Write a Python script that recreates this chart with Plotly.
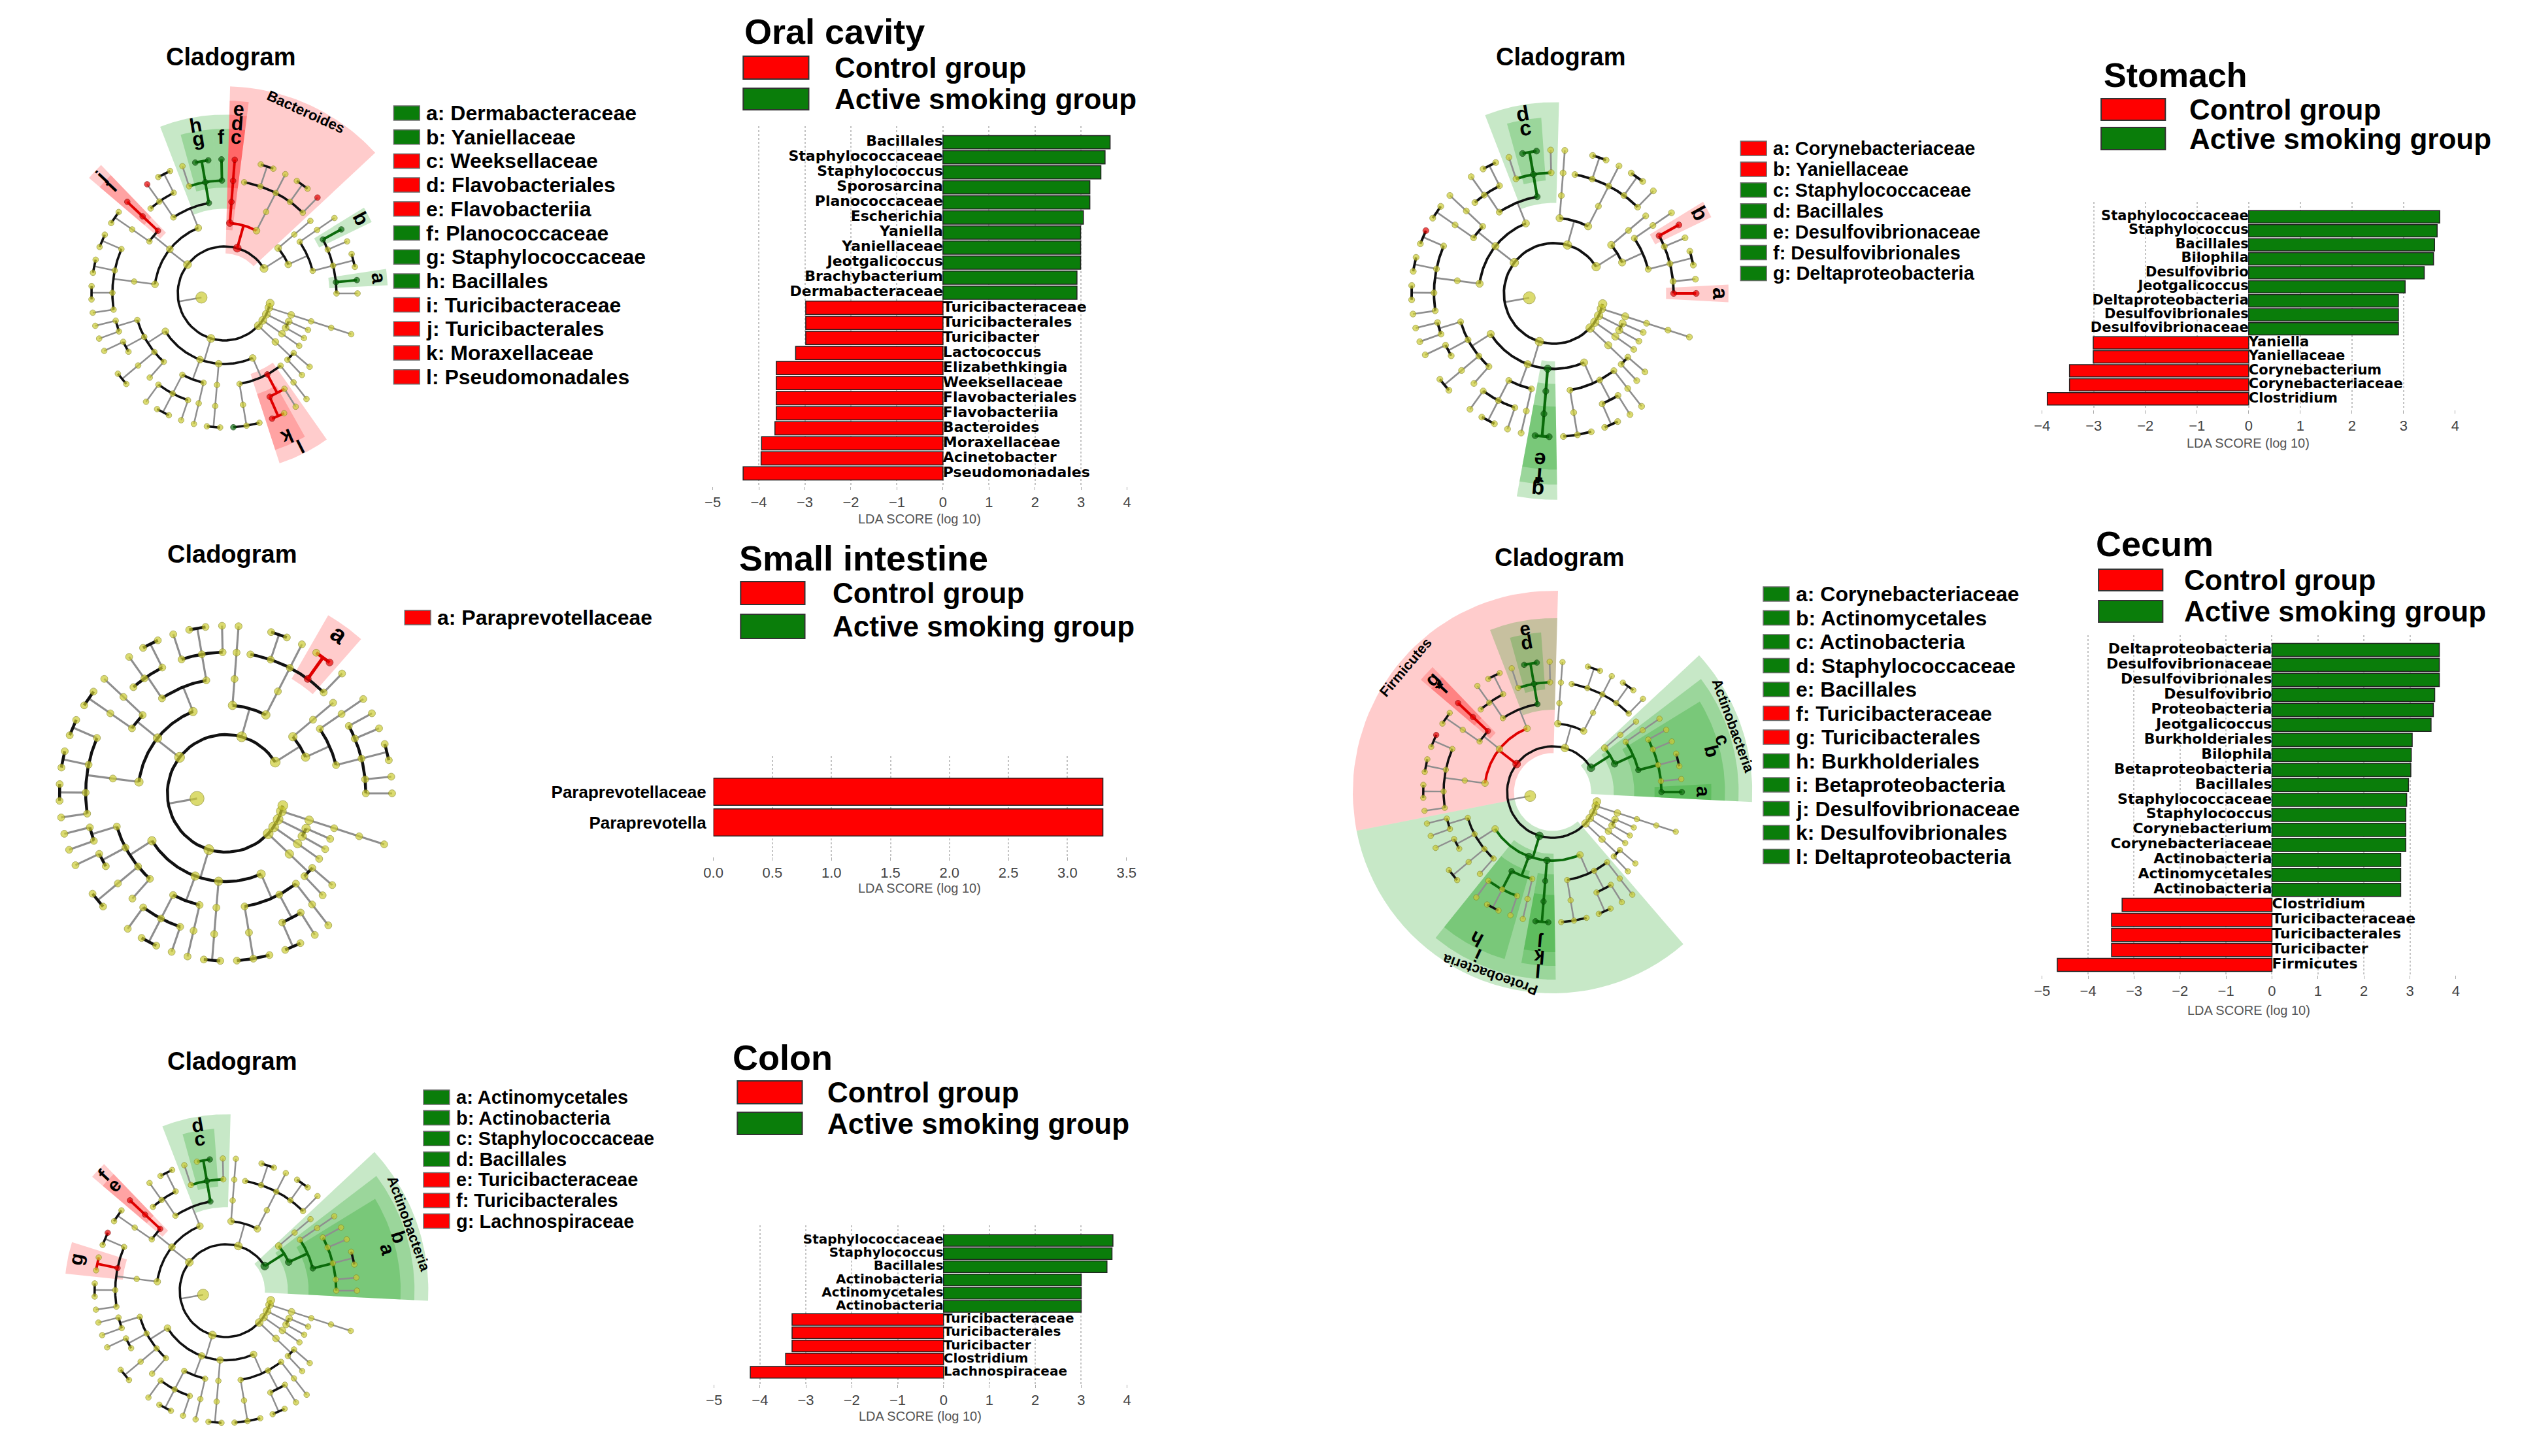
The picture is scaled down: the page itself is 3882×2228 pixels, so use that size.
import numpy as np
import plotly.graph_objects as go

W, H = 3882, 2228
RED = "#FF0000"
GREEN = "#0A7D0A"
FONT = "Liberation Sans, Arial, sans-serif"
BAR_FONT = "DejaVu Sans, Liberation Sans, sans-serif"

# ---------------- LDA scores ----------------
oral_taxa = ["Bacillales", "Staphylococcaceae", "Staphylococcus", "Sporosarcina",
             "Planococcaceae", "Escherichia", "Yaniella", "Yaniellaceae",
             "Jeotgalicoccus", "Brachybacterium", "Dermabacteraceae",
             "Turicibacteraceae", "Turicibacterales", "Turicibacter", "Lactococcus",
             "Elizabethkingia", "Weeksellaceae", "Flavobacteriales", "Flavobacteriia",
             "Bacteroides", "Moraxellaceae", "Acinetobacter", "Pseudomonadales"]
oral_lda = [3.63, 3.52, 3.43, 3.19, 3.19, 3.05, 2.99, 2.99, 2.99, 2.91, 2.91,
            -2.98, -2.98, -2.98, -3.20, -3.62, -3.62, -3.62, -3.62, -3.65,
            -3.94, -3.95, -4.34]

stomach_taxa = ["Staphylococcaceae", "Staphylococcus", "Bacillales", "Bilophila",
                "Desulfovibrio", "Jeotgalicoccus", "Deltaproteobacteria",
                "Desulfovibrionales", "Desulfovibrionaceae", "Yaniella", "Yaniellaceae",
                "Corynebacterium", "Corynebacteriaceae", "Clostridium"]
stomach_lda = [3.70, 3.65, 3.60, 3.58, 3.40, 3.03, 2.90, 2.90, 2.90,
               -3.01, -3.01, -3.47, -3.47, -3.90]

cecum_taxa = ["Deltaproteobacteria", "Desulfovibrionaceae", "Desulfovibrionales",
              "Desulfovibrio", "Proteobacteria", "Jeotgalicoccus", "Burkholderiales",
              "Bilophila", "Betaproteobacteria", "Bacillales", "Staphylococcaceae",
              "Staphylococcus", "Corynebacterium", "Corynebacteriaceae",
              "Actinobacteria", "Actinomycetales", "Actinobacteria", "Clostridium",
              "Turicibacteraceae", "Turicibacterales", "Turicibacter", "Firmicutes"]
cecum_lda = [3.64, 3.64, 3.64, 3.54, 3.51, 3.46, 3.05, 3.03, 3.02, 2.97, 2.93,
             2.91, 2.91, 2.91, 2.80, 2.80, 2.80, -3.26, -3.49, -3.49, -3.49, -4.67]

colon_taxa = ["Staphylococcaceae", "Staphylococcus", "Bacillales", "Actinobacteria",
              "Actinomycetales", "Actinobacteria", "Turicibacteraceae",
              "Turicibacterales", "Turicibacter", "Clostridium", "Lachnospiraceae"]
colon_lda = [3.69, 3.67, 3.56, 3.00, 3.00, 3.00, -3.30, -3.30, -3.30, -3.44, -4.21]

si_taxa = ["Paraprevotellaceae", "Paraprevotella"]
si_lda = [3.30, 3.30]
si_group = ["Control", "Control"]

# ---------------- taxonomy drawn in the cladograms ----------------
# (name, children); an int n stands for n unnamed leaves
TAXONOMY = [
    ("p_Actinobacteria", [
        ("c_Actinobacteria", [
            ("o_Actinomycetales", [
                ("f_Corynebacteriaceae", ["g_Corynebacterium"]),
                ("f_Dermabacteraceae", ["g_Brachybacterium"]),
                ("f_Micrococcaceae", [2]),
                ("f_Brevibacteriaceae", [1]),
                ("f_Yaniellaceae", ["g_Yaniella"]),
            ]),
            ("o_Bifidobacteriales", [("f_Bifidobacteriaceae", [1])]),
        ]),
        ("c_Coriobacteriia", [("o_Coriobacteriales", [1])]),
    ]),
    ("p_Bacteroidetes", [
        ("c_Bacteroidia", [
            ("o_Bacteroidales", [
                ("f_Bacteroidaceae", ["g_Bacteroides"]),
                ("f_Paraprevotellaceae", ["g_Paraprevotella", 1]),
                ("f_Prevotellaceae", [1]),
                ("f_Porphyromonadaceae", [2]),
                ("f_S24-7", []),
            ]),
        ]),
        ("c_Flavobacteriia", [
            ("o_Flavobacteriales", [("f_Weeksellaceae", ["g_Elizabethkingia"])]),
        ]),
    ]),
    ("p_Firmicutes", [
        ("c_Bacilli", [
            ("o_Bacillales", [
                ("f_Planococcaceae", ["g_Sporosarcina"]),
                ("f_Staphylococcaceae", ["g_Staphylococcus", "g_Jeotgalicoccus"]),
                ("f_Bacillaceae", [1]),
            ]),
            ("o_Lactobacillales", [
                ("f_Lactobacillaceae", [2]),
                ("f_Streptococcaceae", ["g_Lactococcus"]),
                ("f_Enterococcaceae", []),
            ]),
        ]),
        ("c_Erysipelotrichi", [
            ("o_Turicibacterales", [("f_Turicibacteraceae", ["g_Turicibacter"])]),
            ("o_Erysipelotrichales", [("f_Erysipelotrichaceae", [2])]),
        ]),
        ("c_Clostridia", [
            ("o_Clostridiales", [
                ("f_Clostridiaceae", ["g_Clostridium", 1]),
                ("f_Lachnospiraceae", [2]),
                ("f_Ruminococcaceae", [2]),
                ("f_Peptostreptococcaceae", [1]),
            ]),
        ]),
    ]),
    ("p_Proteobacteria", [
        ("c_Alphaproteobacteria", [
            ("o_Rhizobiales", [("f_Bradyrhizobiaceae", [1]), ("f_Rhizobiaceae", [1])]),
            ("o_Rhodospirillales", [("f_Rhodospirillaceae", [1]), ("f_Acetobacteraceae", [])]),
            ("o_Sphingomonadales", [("f_Sphingomonadaceae", [2])]),
            ("o_Rickettsiales", [1]),
        ]),
        ("c_Betaproteobacteria", [
            ("o_Burkholderiales", [("f_Alcaligenaceae", [1]), ("f_Comamonadaceae", [2]),
                                   ("f_Oxalobacteraceae", [1])]),
            ("o_Neisseriales", [("f_Neisseriaceae", [1])]),
        ]),
        ("c_Deltaproteobacteria", [
            ("o_Desulfovibrionales", [("f_Desulfovibrionaceae", ["g_Desulfovibrio", "g_Bilophila"])]),
        ]),
        ("c_Gammaproteobacteria", [
            ("o_Enterobacteriales", [("f_Enterobacteriaceae", ["g_Escherichia", 2])]),
            ("o_Pseudomonadales", [("f_Moraxellaceae", ["g_Acinetobacter", 1]),
                                   ("f_Pseudomonadaceae", [1])]),
            ("o_Pasteurellales", [("f_Pasteurellaceae", [1])]),
        ]),
    ]),
    ("p_Tenericutes", [("c_Mollicutes", [("o_RF39", [1]), ("o_Anaeroplasmatales", [1])])]),
    ("p_Deferribacteres", [("c_Deferribacteres", [1])]),
    ("p_Cyanobacteria", [("c_4C0d-2", [1]), ("c_Chloroplast", [1])]),
    ("p_Verrucomicrobia", [("c_Verrucomicrobiae", [("o_Verrucomicrobiales",
                                                     [("f_Verrucomicrobiaceae", [1])])])]),
    ("p_TM7", []),
]

# marked taxa per site: colour, and a letter (legend), a clade name, or None (dot only)
oral_marked = {
    "f_Dermabacteraceae": ("g", "a"), "f_Yaniellaceae": ("g", "b"),
    "f_Weeksellaceae": ("r", "c"), "o_Flavobacteriales": ("r", "d"),
    "c_Flavobacteriia": ("r", "e"), "f_Planococcaceae": ("g", "f"),
    "f_Staphylococcaceae": ("g", "g"), "o_Bacillales": ("g", "h"),
    "f_Turicibacteraceae": ("r", "i"), "o_Turicibacterales": ("r", "j"),
    "f_Moraxellaceae": ("r", "k"), "o_Pseudomonadales": ("r", "l"),
    "p_Bacteroidetes": ("r", "Bacteroides"),
    "g_Bacteroides": ("r", None), "g_Elizabethkingia": ("r", None),
    "g_Turicibacter": ("r", None), "g_Lactococcus": ("r", None),
    "g_Acinetobacter": ("r", None), "g_Staphylococcus": ("g", None),
    "g_Sporosarcina": ("g", None), "g_Jeotgalicoccus": ("g", None),
    "g_Yaniella": ("g", None), "g_Brachybacterium": ("g", None),
    "g_Escherichia": ("g", None),
}
stomach_marked = {
    "f_Corynebacteriaceae": ("r", "a"), "f_Yaniellaceae": ("r", "b"),
    "f_Staphylococcaceae": ("g", "c"), "o_Bacillales": ("g", "d"),
    "f_Desulfovibrionaceae": ("g", "e"), "o_Desulfovibrionales": ("g", "f"),
    "c_Deltaproteobacteria": ("g", "g"),
    "g_Corynebacterium": ("r", None), "g_Yaniella": ("r", None),
    "g_Clostridium": ("r", None), "g_Staphylococcus": ("g", None),
    "g_Jeotgalicoccus": ("g", None), "g_Desulfovibrio": ("g", None),
    "g_Bilophila": ("g", None),
}
cecum_marked = {
    "f_Corynebacteriaceae": ("g", "a"), "o_Actinomycetales": ("g", "b"),
    "c_Actinobacteria": ("g", "c"), "f_Staphylococcaceae": ("g", "d"),
    "o_Bacillales": ("g", "e"), "f_Turicibacteraceae": ("r", "f"),
    "o_Turicibacterales": ("r", "g"), "o_Burkholderiales": ("g", "h"),
    "c_Betaproteobacteria": ("g", "i"), "f_Desulfovibrionaceae": ("g", "j"),
    "o_Desulfovibrionales": ("g", "k"), "c_Deltaproteobacteria": ("g", "l"),
    "p_Actinobacteria": ("g", "Actinobacteria"), "p_Firmicutes": ("r", "Firmicutes"),
    "p_Proteobacteria": ("g", "Proteobacteria"),
    "g_Corynebacterium": ("g", None), "g_Staphylococcus": ("g", None),
    "g_Jeotgalicoccus": ("g", None), "g_Desulfovibrio": ("g", None),
    "g_Bilophila": ("g", None), "g_Clostridium": ("r", None),
    "g_Turicibacter": ("r", None),
}
colon_marked = {
    "o_Actinomycetales": ("g", "a"), "c_Actinobacteria": ("g", "b"),
    "f_Staphylococcaceae": ("g", "c"), "o_Bacillales": ("g", "d"),
    "f_Turicibacteraceae": ("r", "e"), "o_Turicibacterales": ("r", "f"),
    "f_Lachnospiraceae": ("r", "g"), "p_Actinobacteria": ("g", "Actinobacteria"),
    "g_Staphylococcus": ("g", None), "g_Turicibacter": ("r", None),
    "g_Clostridium": ("r", None),
}
si_marked = {"f_Paraprevotellaceae": ("r", "a"), "g_Paraprevotella": ("r", None)}

LEVEL_R = [0.5, 1.0, 1.5, 1.95, 2.4, 2.85]
ANGLE_FROM, ANGLE_TO = 0.0, 348.0
SHADE = {"r": "rgba(255,0,0,0.2)", "g": "rgba(0,150,0,0.22)"}
LINE = {"r": "#E00000", "g": "#0B6B0B", "grey": "#8E8E8E", "black": "#111111"}
DOT = {"y": ("#CCCC33", "#8C8C1E"), "r": ("#E80000", "#8A0000"), "g": ("#0B6B0B", "#033803")}

fig = go.Figure()


def kids_of(node):
    if isinstance(node, str):
        return []
    out = []
    for c in node[1]:
        out.extend([""] * c if isinstance(c, int) else [c])
    return out


def n_leaves(node):
    ks = kids_of(node)
    return 1 if not ks else sum(n_leaves(k) for k in ks)


def lay_out(tree):
    root = ("root", tree)
    step = (ANGLE_TO - ANGLE_FROM) / (n_leaves(root) - 1)
    nodes, count = [], [0]

    def walk(node, depth):
        ks = kids_of(node)
        rec = {"name": node if isinstance(node, str) else node[0], "depth": depth, "kids": []}
        if ks:
            rec["kids"] = [walk(k, depth + 1) for k in ks]
            first, last = rec["kids"][0], rec["kids"][-1]
            rec["angle"] = (first["angle"] + last["angle"]) / 2
            rec["lo"], rec["hi"] = first["lo"], last["hi"]
        else:
            a = ANGLE_FROM + step * count[0]
            count[0] += 1
            rec["angle"] = rec["lo"] = rec["hi"] = a
        nodes.append(rec)
        return rec

    walk(root, 0)
    return nodes, step


def polar(cx, cy, unit, r, a):
    t = np.radians(a)
    return cx + r * unit * np.cos(t), cy - r * unit * np.sin(t)


def canvas_text(x, y, text, size, anchor="center", angle=0, color="black", bold=True):
    fig.add_annotation(x=x, y=y, xref="x6", yref="y6", text=text, showarrow=False,
                       xanchor=anchor, yanchor="middle", textangle=angle,
                       font=dict(family=FONT, size=size, color=color,
                                 weight="bold" if bold else "normal"))


def draw_cladogram(marked, cx, cy, unit, title_y, leg_x, leg_y0, leg_dy, leg_size):
    nodes, step = lay_out(TAXONOMY)

    # shaded clades
    shaded = sorted([n for n in nodes if marked.get(n["name"], (None, None))[1]],
                    key=lambda n: n["depth"])
    for n in shaded:
        col, lab = marked[n["name"]]
        r_in = LEVEL_R[n["depth"]] - 0.15
        r_out = LEVEL_R[-1] + 0.35 + 0.3 * (5 - n["depth"])
        a = np.linspace(n["lo"] - step / 2, n["hi"] + step / 2, 40)
        xo, yo = polar(cx, cy, unit, r_out, a)
        xi, yi = polar(cx, cy, unit, r_in, a[::-1])
        fig.add_trace(go.Scatter(x=np.r_[xo, xi, xo[:1]], y=np.r_[yo, yi, yo[:1]],
                                 fill="toself", fillcolor=SHADE[col], mode="lines",
                                 line=dict(width=0), xaxis="x6", yaxis="y6",
                                 hoverinfo="skip"))
        mid = (n["lo"] + n["hi"]) / 2
        lx, ly = polar(cx, cy, unit, r_out - 0.17, mid)
        rot = ((90 - mid + 180) % 360) - 180
        canvas_text(lx, ly, lab, unit * (0.42 if len(lab) == 1 else 0.31), angle=rot)

    # branches
    segs = {k: ([], []) for k in ["grey", "black", "r", "g"]}
    for n in nodes:
        if not n["kids"]:
            continue
        d = n["depth"]
        col = marked.get(n["name"], (None,))[0]
        x, y = polar(cx, cy, unit, np.array([LEVEL_R[d], LEVEL_R[d + 1]]), n["angle"])
        segs[col or "grey"][0].extend(list(x) + [None])
        segs[col or "grey"][1].extend(list(y) + [None])
        if len(n["kids"]) > 1:
            a = np.linspace(n["kids"][0]["angle"], n["kids"][-1]["angle"], 60)
            x, y = polar(cx, cy, unit, LEVEL_R[d + 1], a)
            segs[col or "black"][0].extend(list(x) + [None])
            segs[col or "black"][1].extend(list(y) + [None])
    for key, width in [("grey", 0.035), ("black", 0.05), ("r", 0.055), ("g", 0.055)]:
        fig.add_trace(go.Scatter(x=segs[key][0], y=segs[key][1], mode="lines",
                                 line=dict(color=LINE[key], width=unit * width),
                                 xaxis="x6", yaxis="y6", hoverinfo="skip"))

    # nodes
    for key in ["y", "r", "g"]:
        pts = [n for n in nodes if (marked.get(n["name"], (None,))[0] or "y") == key]
        if not pts:
            continue
        xs, ys, sz = [], [], []
        for n in pts:
            x, y = polar(cx, cy, unit, LEVEL_R[n["depth"]], n["angle"])
            xs.append(x)
            ys.append(y)
            d = n["depth"]
            sz.append(unit * (0.24 if d == 0 else 0.17 if d == 1 else 0.145 if d == 2 else 0.12))
        fig.add_trace(go.Scatter(x=xs, y=ys, mode="markers", xaxis="x6", yaxis="y6",
                                 marker=dict(size=sz, color=DOT[key][0],
                                             line=dict(color=DOT[key][1], width=1)),
                                 hoverinfo="skip"))

    canvas_text(cx + 10, title_y, "Cladogram", 38)
    entries = sorted([(lab, name) for name, (col, lab) in marked.items()
                      if lab and len(lab) == 1])
    for i, (lab, name) in enumerate(entries):
        col = marked[name][0]
        y = leg_y0 + i * leg_dy
        fig.add_shape(type="rect", xref="x6", yref="y6", x0=leg_x, x1=leg_x + 40,
                      y0=y - 11, y1=y + 11, fillcolor=RED if col == "r" else GREEN,
                      line=dict(color="#6A6A6A", width=1.5))
        canvas_text(leg_x + 48, y, f"{lab}: {name[2:]}", leg_size, anchor="left")


def lda_panel(k, taxa, lda, xpx, area, bars, xrange, tickvals, label_size,
              groups=None, axis_labels=False, tickformat=None):
    n = len(taxa)
    top, bottom = area
    bt, bb = bars
    slot = (bb - bt) / n
    y_top = -0.5 - (bt - top) / slot
    y_bot = n - 0.5 + (bottom - bb) / slot
    pos = list(range(n))
    if groups is None:
        groups = ["Active" if v > 0 else "Control" for v in lda]
    xa, ya = ("x", "y") if k == 1 else (f"x{k}", f"y{k}")
    fig.add_trace(go.Bar(x=lda, y=pos, orientation="h", xaxis=xa, yaxis=ya, width=0.88,
                         marker=dict(color=[GREEN if g == "Active" else RED for g in groups],
                                     line=dict(color="#222222", width=1.5)),
                         hoverinfo="skip"))
    if not axis_labels:
        tf = dict(family=BAR_FONT, size=label_size, color="black", weight="bold")
        right = [i for i in pos if lda[i] > 0]
        left = [i for i in pos if lda[i] < 0]
        fig.add_trace(go.Scatter(x=[0] * len(right), y=right, text=[taxa[i] for i in right],
                                 mode="text", textposition="middle left", textfont=tf,
                                 xaxis=xa, yaxis=ya, cliponaxis=False, hoverinfo="skip"))
        fig.add_trace(go.Scatter(x=[0] * len(left), y=left, text=[taxa[i] for i in left],
                                 mode="text", textposition="middle right", textfont=tf,
                                 xaxis=xa, yaxis=ya, cliponaxis=False, hoverinfo="skip"))
    else:
        tf = dict(family=FONT, size=label_size, color="black", weight="bold")
    key = "" if k == 1 else str(k)
    fig.update_layout(**{
        f"xaxis{key}": dict(domain=[xpx[0] / W, xpx[1] / W], range=xrange, anchor=ya,
                            tickvals=tickvals, tickformat=tickformat, showgrid=True,
                            gridcolor="#C4C4C4", griddash="dot", gridwidth=1.5,
                            zeroline=False, showline=False, ticks="outside", ticklen=5,
                            tickcolor="#AAAAAA",
                            tickfont=dict(family=FONT, size=22, color="#444444")),
        f"yaxis{key}": dict(domain=[1 - bottom / H, 1 - top / H], range=[y_bot, y_top],
                            anchor=xa, showgrid=False, zeroline=False, showline=False,
                            tickvals=pos if axis_labels else [],
                            ticktext=taxa if axis_labels else None,
                            ticks="", ticklabelstandoff=10, tickfont=tf),
    })


def panel_heading(title, title_xy, title_size, box_x, red_y, green_y, text_x):
    canvas_text(title_xy[0], title_xy[1], title, title_size, anchor="left")
    for (y0, y1), col, txt in [(red_y, RED, "Control group"),
                               (green_y, GREEN, "Active smoking group")]:
        fig.add_shape(type="rect", xref="x6", yref="y6", x0=box_x[0], x1=box_x[1],
                      y0=y0, y1=y1, fillcolor=col, line=dict(color="#333333", width=2))
        canvas_text(text_x, (y0 + y1) / 2, txt, 44, anchor="left")


def lda_title(x, y):
    canvas_text(x, y, "LDA SCORE (log 10)", 20, color="#555555", bold=False)


# ---------------- bar panels ----------------
lda_panel(1, oral_taxa, oral_lda, (1084, 1723), (193, 744), (206, 736), [-5, 4],
          list(range(-5, 5)), 22)
panel_heading("Oral cavity", (1131, 48), 54, (1131, 1232), (86, 121), (135, 168), 1270)
lda_title(1403, 794)

lda_panel(2, stomach_taxa, stomach_lda, (3134, 3771), (309, 627), (321, 621), [-4, 4],
          list(range(-4, 5)), 21)
panel_heading("Stomach", (3227, 115), 52, (3225, 3324), (151, 184), (195, 229), 3359)
lda_title(3452, 678)

lda_panel(3, si_taxa, si_lda, (1085, 1722), (1157, 1311), (1188, 1282), [0, 3.5],
          [0, 0.5, 1, 1.5, 2, 2.5, 3, 3.5], 26, groups=si_group, axis_labels=True,
          tickformat=".1f")
panel_heading("Small intestine", (1123, 854), 54, (1127, 1226), (890, 925), (940, 977), 1267)
lda_title(1403, 1359)

lda_panel(4, cecum_taxa, cecum_lda, (3134, 3772), (972, 1492), (983, 1488), [-5, 4],
          list(range(-5, 5)), 22)
panel_heading("Cecum", (3215, 832), 54, (3221, 3320), (871, 904), (919, 952), 3351)
lda_title(3453, 1546)

lda_panel(5, colon_taxa, colon_lda, (1086, 1723), (1875, 2118), (1888, 2110), [-5, 4],
          list(range(-5, 5)), 20)
panel_heading("Colon", (1113, 1618), 54, (1122, 1222), (1654, 1689), (1702, 1736), 1259)
lda_title(1404, 2167)

# ---------------- cladograms ----------------
draw_cladogram(oral_marked, 331, 449, 72, 87, 592, 173, 36.7, 32)
draw_cladogram(si_marked, 333, 1214, 90, 848, 609, 945, 36, 32)
draw_cladogram(colon_marked, 333, 1975, 71, 1624, 638, 1679, 31.6, 29)
draw_cladogram(stomach_marked, 2381, 449, 77, 87, 2669, 227, 31.9, 29)
draw_cladogram(cecum_marked, 2379, 1212, 70, 853, 2704, 909, 36.5, 32)

fig.update_layout(
    width=W, height=H, margin=dict(l=0, r=0, t=0, b=0),
    paper_bgcolor="white", plot_bgcolor="rgba(0,0,0,0)", showlegend=False,
    xaxis6=dict(domain=[0, 1], range=[0, W], visible=False, anchor="y6"),
    yaxis6=dict(domain=[0, 1], range=[H, 0], visible=False, anchor="x6"),
)

fig.write_html("out.html", config={"displayModeBar": False},
               post_script="document.body.style.margin='0';")
